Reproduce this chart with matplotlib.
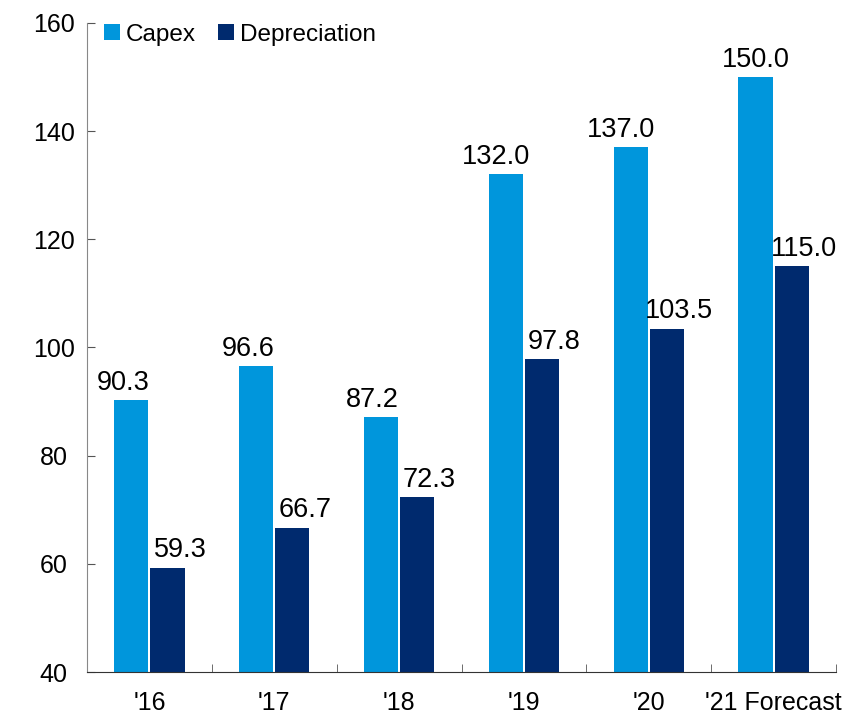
import numpy as np
from matplotlib import pyplot as plt

years = ["'16", "'17", "'18", "'19", "'20", "'21 Forecast"]
capex = [90.3, 96.6, 87.2, 132.0, 137.0, 150.0]
depreciation = [59.3, 66.7, 72.3, 97.8, 103.5, 115.0]

plt.rcParams['font.family'] = ['Liberation Sans', 'DejaVu Sans']
plt.rcParams['font.size'] = 18

fig = plt.figure(figsize=(8.51, 7.14), dpi=100)
ax = fig.add_axes([87 / 851, 42 / 714, 749 / 851, 649 / 714])

x = np.arange(len(years))
w = 0.273
off = 0.145
ax.bar(x - off, np.array(capex) - 40, w, bottom=40, color='#0096DC', label='Capex')
ax.bar(x + off, np.array(depreciation) - 40, w, bottom=40, color='#002A6E', label='Depreciation')

# labels sit a bit off-centre like the original
cap_dx = [-6, -6, -6, -7, -7, 0]
dep_dx = [9, 9, 9, 9, 9, 9]
for xi, v, dx in zip(x - off, capex, cap_dx):
    ax.annotate(f'{v:.1f}', (xi, v), xytext=(dx, 3), textcoords='offset points',
                ha='center', va='bottom', fontsize=19.5)
for xi, v, dx in zip(x + off, depreciation, dep_dx):
    ax.annotate(f'{v:.1f}', (xi, v), xytext=(dx, 3), textcoords='offset points',
                ha='center', va='bottom', fontsize=19.5)

ax.set_xlim(-0.5, len(years) - 0.5)
ax.set_ylim(40, 160)
ax.set_yticks(range(40, 161, 20))
ax.set_xticks(x)
ax.set_xticklabels(years)
ax.set_xticks(np.arange(-0.5, len(years)), minor=True)
ax.tick_params(axis='x', which='major', length=0, pad=14)
ax.tick_params(axis='x', which='minor', direction='in', length=6, color='#555555')
ax.tick_params(axis='y', direction='in', length=6, color='#555555', pad=24)
for lab in ax.get_yticklabels():
    lab.set_horizontalalignment('center')

for s in ['top', 'right']:
    ax.spines[s].set_visible(False)
ax.spines['left'].set_color('#888888')
ax.spines['bottom'].set_color('#333333')

ax.legend(loc='upper left', bbox_to_anchor=(0.0, 1.025), frameon=False, ncol=2,
          handlelength=0.65, handleheight=0.65, handletextpad=0.25, columnspacing=0.9,
          borderaxespad=0.3, fontsize=17.5)

fig.savefig('out.png', dpi=100)
